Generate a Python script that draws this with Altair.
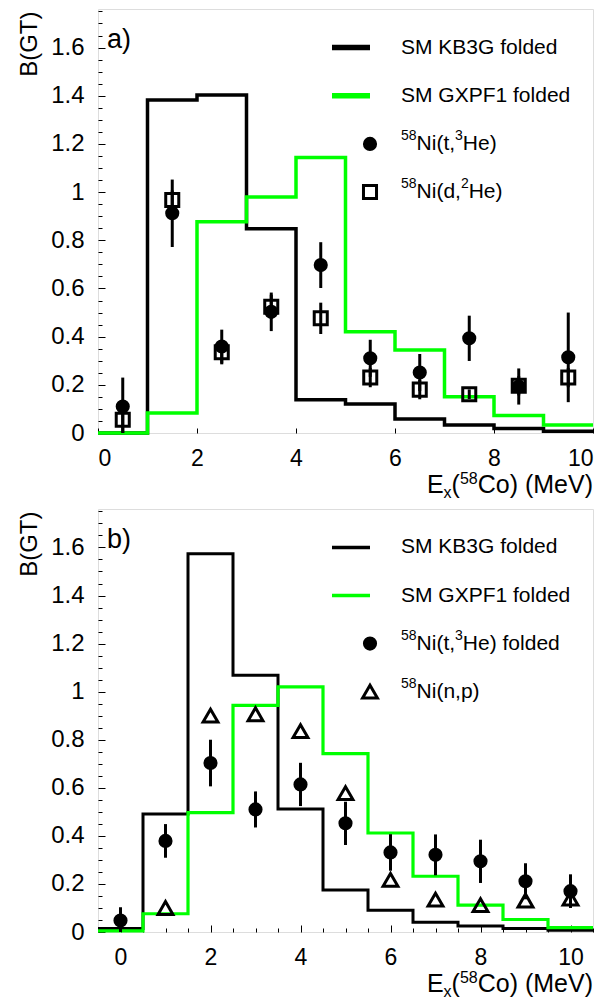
import altair as alt
import pandas as pd

FONT = "Liberation Sans"
GREEN = "#00ff00"
BLACK = "#000000"

# ---------------- panel a) data ----------------
a_edges = [0, 1, 2, 3, 4, 5, 6, 7, 8, 9, 10]
a_kb3g = [0.0, 1.382, 1.403, 0.848, 0.138, 0.120, 0.058, 0.033, 0.019, 0.007]
a_gxpf1 = [0.0, 0.083, 0.877, 0.980, 1.144, 0.420, 0.345, 0.150, 0.073, 0.033]
a_x = [0.5, 1.5, 2.5, 3.5, 4.5, 5.5, 6.5, 7.5, 8.5, 9.5]
a_the = [0.110, 0.912, 0.359, 0.503, 0.697, 0.310, 0.251, 0.393, 0.193, 0.314]
a_the_err = [0.120, 0.140, 0.070, 0.080, 0.095, 0.077, 0.077, 0.094, 0.075, 0.186]
a_dhe = [0.055, 0.967, 0.335, 0.524, 0.476, 0.230, 0.180, 0.161, 0.196, 0.230]
a_dhe_err = [0.055, 0.040, 0.050, 0.050, 0.065, 0.040, 0.040, 0.020, 0.040, 0.040]

# ---------------- panel b) data ----------------
b_edges = [-0.5, 0.5, 1.5, 2.5, 3.5, 4.5, 5.5, 6.5, 7.5, 8.5, 9.5, 10.5]
b_kb3g = [0.015, 0.491, 1.574, 1.068, 0.512, 0.175, 0.091, 0.041, 0.025, 0.015, 0.007]
b_gxpf1 = [0.005, 0.076, 0.497, 0.943, 1.020, 0.742, 0.412, 0.232, 0.112, 0.052, 0.018]
b_x = [0, 1, 2, 3, 4, 5, 6, 7, 8, 9, 10]
b_the = [0.048, 0.379, 0.703, 0.510, 0.614, 0.452, 0.331, 0.321, 0.294, 0.211, 0.170]
b_the_err = [0.055, 0.070, 0.097, 0.075, 0.090, 0.090, 0.076, 0.085, 0.090, 0.075, 0.070]
b_np_x = [1, 2, 3, 4, 5, 6, 7, 8, 9, 10]
b_np = [0.100, 0.900, 0.906, 0.836, 0.578, 0.217, 0.135, 0.112, 0.131, 0.139]

# ---------------- axes ----------------
y_labels = [0, 0.2, 0.4, 0.6, 0.8, 1.0, 1.2, 1.4, 1.6]
y_ticks = [round(i * 0.05, 2) for i in range(36)]
a_xlabels = [0, 2, 4, 6, 8, 10]
a_xticks = [0, 2, 4, 6, 8, 10]
b_xlabels = [0, 2, 4, 6, 8, 10]
b_xticks = [round(-0.5 + i * 0.5, 1) for i in range(23)]
YDOM = [0, 1.76]
YTITLE = "B(GT)"

# rich-text pieces: (text, font size, baseline shift up)
XTITLE_PARTS = [("E", 25, 0), ("x", 16, -5), ("(", 25, 0), ("58", 16, 9), ("Co) (MeV)", 25, 0)]
LEG_THE = [("58", 14, 8), ("Ni(t,", 21, 0), ("3", 14, 8), ("He)", 21, 0)]
LEG_THE_F = [("58", 14, 8), ("Ni(t,", 21, 0), ("3", 14, 8), ("He) folded", 21, 0)]
LEG_DHE = [("58", 14, 8), ("Ni(d,", 21, 0), ("2", 14, 8), ("He)", 21, 0)]
LEG_NP = [("58", 14, 8), ("Ni(n,p)", 21, 0)]

W = 495

# Arial / Liberation Sans advance widths (per 1000 em)
AW = {'S': 667, 'M': 833, ' ': 278, 'K': 667, 'B': 667, 'G': 778, 'f': 278, 'o': 556,
      'l': 222, 'd': 556, 'e': 556, 'X': 667, 'P': 667, 'F': 611, 'N': 722, 'i': 222,
      '(': 333, ')': 333, 't': 278, ',': 278, 'H': 722, 'n': 556, 'p': 556, 'E': 667,
      'x': 500, 'C': 722, 'V': 667}


def tw(s, size):
    return sum(AW.get(c, 556) for c in s) * size / 1000.0


def rich(parts, x0, y_enc, one, align="left", base="alphabetic"):
    total = sum(tw(t, s) for t, s, _ in parts)
    x = x0 if align == "left" else x0 - total
    out = []
    for t, s, up in parts:
        out.append(alt.Chart(one).mark_text(
            align="left", baseline=base, font=FONT, fontSize=s, color=BLACK, dy=-up).encode(
            x=alt.value(x), y=y_enc, text=alt.value(t)))
        x += tw(t, s)
    return out


def step_df(edges, vals):
    return pd.DataFrame({"x": edges, "y": list(vals) + [vals[-1]]})


def err_df(xs, vals, errs):
    return pd.DataFrame({"x": xs, "y": vals,
                         "lo": [v - e for v, e in zip(vals, errs)],
                         "hi": [v + e for v, e in zip(vals, errs)]})


def panel(H, edges, xdom, xlabels, xticks, x_major_test, x_major_len, x_minor_len,
          kb, gx, lw_kb, lw_gx, series, legend, label, leg_lw):
    xs = alt.Scale(domain=xdom, nice=False, zero=False)
    ys = alt.Scale(domain=YDOM, nice=False, zero=False)
    one = pd.DataFrame({"t": [label]})

    lab_x_axis = alt.Axis(orient="bottom", values=xlabels, format="d", ticks=False,
                          domain=False, grid=False, labelFontSize=23, labelPadding=14,
                          labelFont=FONT, labelColor=BLACK, title=None)
    lab_y_axis = alt.Axis(orient="left", values=y_labels, format=".1~f", ticks=False,
                          domain=False, grid=False, labelFontSize=24, labelPadding=14,
                          labelFont=FONT, labelColor=BLACK,
                          title=YTITLE, titleFont=FONT, titleFontSize=24,
                          titleFontWeight="normal", titleAngle=270,
                          titleAlign="right", titleBaseline="middle",
                          titleX=-69, titleY=2, titleColor=BLACK)
    tick_x_axis = alt.Axis(orient="top", offset=-H, values=xticks, labels=False,
                           domain=False, grid=False, title=None, tickColor=BLACK,
                           tickWidth=1,
                           tickSize={"condition": {"test": x_major_test, "value": x_major_len},
                                     "value": x_minor_len})
    tick_y_axis = alt.Axis(orient="right", offset=-W, values=y_ticks, labels=False,
                           domain=False, grid=False, title=None, tickColor=BLACK,
                           tickWidth=1,
                           tickSize={"condition": {
                               "test": "abs(datum.value*5 - round(datum.value*5)) < 0.001",
                               "value": 7}, "value": 4})

    layers = []
    layers.append(alt.Chart(step_df(edges, kb)).mark_line(
        interpolate="step-after", color=BLACK, strokeWidth=lw_kb).encode(
        x=alt.X("x:Q", scale=xs, axis=lab_x_axis),
        y=alt.Y("y:Q", scale=ys, axis=lab_y_axis)))
    layers.append(alt.Chart(step_df(edges, gx)).mark_line(
        interpolate="step-after", color=GREEN, strokeWidth=lw_gx).encode(
        x=alt.X("x:Q", scale=xs, axis=tick_x_axis),
        y=alt.Y("y:Q", scale=ys, axis=tick_y_axis)))

    for s in series:
        df = s["df"]
        if s.get("err", True):
            layers.append(alt.Chart(df).mark_rule(color=BLACK, strokeWidth=3, clip=True).encode(
                x=alt.X("x:Q", scale=xs, axis=None),
                y=alt.Y("lo:Q", scale=ys, axis=None), y2="hi:Q"))
        layers.append(alt.Chart(df).mark_point(
            shape=s["shape"], filled=s["filled"], size=s["size"], color=BLACK,
            strokeWidth=3, opacity=1).encode(
            x=alt.X("x:Q", scale=xs, axis=None),
            y=alt.Y("y:Q", scale=ys, axis=None)))

    # legend (drawn inside the frame, as in the reference)
    for item in legend:
        yv = alt.YDatum(item["y"], axis=None)
        if item["kind"] == "line":
            layers.append(alt.Chart(one).mark_rule(color=item["color"], strokeWidth=leg_lw).encode(
                x=alt.value(234), x2=alt.value(272), y=yv))
        else:
            layers.append(alt.Chart(one).mark_point(
                shape=item["shape"], filled=item["filled"], size=item["size"],
                color=BLACK, strokeWidth=3, opacity=1).encode(
                x=alt.value(272), y=yv))
        if isinstance(item["text"], str):
            layers.append(alt.Chart(one).mark_text(
                align="left", baseline="middle", font=FONT, fontSize=21, color=BLACK).encode(
                x=alt.value(303), y=yv, text=alt.value(item["text"])))
        else:
            layers += rich(item["text"], 303, yv, one, base="middle")

    # x-axis title (with sub/superscripts), right-aligned below the frame
    layers += rich(XTITLE_PARTS, W, alt.value(H + 60), one, align="right")

    layers.append(alt.Chart(one).mark_text(
        align="left", baseline="alphabetic", font=FONT, fontSize=27, color=BLACK).encode(
        x=alt.value(9), y=alt.value(39), text="t:N"))

    return alt.layer(*layers).resolve_axis(x="independent", y="independent").properties(
        width=W, height=H)


top = panel(
    H=424, edges=a_edges, xdom=[0, 10], xlabels=a_xlabels, xticks=a_xticks,
    x_major_test="true", x_major_len=5, x_minor_len=5,
    kb=a_kb3g, gx=a_gxpf1, lw_kb=3.5, lw_gx=3.5,
    series=[
        {"df": err_df(a_x, a_the, a_the_err), "shape": "circle", "filled": True, "size": 200},
        {"df": err_df(a_x, a_dhe, a_dhe_err), "shape": "square", "filled": False, "size": 170},
    ],
    legend=[
        {"kind": "line", "color": BLACK, "y": 1.6, "text": "SM KB3G folded"},
        {"kind": "line", "color": GREEN, "y": 1.4, "text": "SM GXPF1 folded"},
        {"kind": "pt", "shape": "circle", "filled": True, "size": 200, "y": 1.2,
         "text": LEG_THE},
        {"kind": "pt", "shape": "square", "filled": False, "size": 170, "y": 1.0,
         "text": LEG_DHE},
    ],
    label="a)", leg_lw=5.5)

bottom = panel(
    H=423, edges=b_edges, xdom=[-0.5, 10.5], xlabels=b_xlabels, xticks=b_xticks,
    x_major_test="abs(datum.value/2 - round(datum.value/2)) < 0.001",
    x_major_len=7, x_minor_len=4,
    kb=b_kb3g, gx=b_gxpf1, lw_kb=3, lw_gx=3.2,
    series=[
        {"df": err_df(b_x, b_the, b_the_err), "shape": "circle", "filled": True, "size": 200},
        {"df": pd.DataFrame({"x": b_np_x, "y": b_np}), "shape": "triangle-up",
         "filled": False, "size": 220, "err": False},
    ],
    legend=[
        {"kind": "line", "color": BLACK, "y": 1.6, "text": "SM KB3G folded"},
        {"kind": "line", "color": GREEN, "y": 1.4, "text": "SM GXPF1 folded"},
        {"kind": "pt", "shape": "circle", "filled": True, "size": 200, "y": 1.2,
         "text": LEG_THE_F},
        {"kind": "pt", "shape": "triangle-up", "filled": False, "size": 220, "y": 1.0,
         "text": LEG_NP},
    ],
    label="b)", leg_lw=3.5)

chart = alt.vconcat(top, bottom, spacing=6).properties(
    padding={"left": 8, "top": 0, "right": 0, "bottom": 0}
).configure_view(stroke=BLACK, strokeWidth=1).configure(background="white")

chart.save("out.html", embed_options={"renderer": "svg", "actions": False})
